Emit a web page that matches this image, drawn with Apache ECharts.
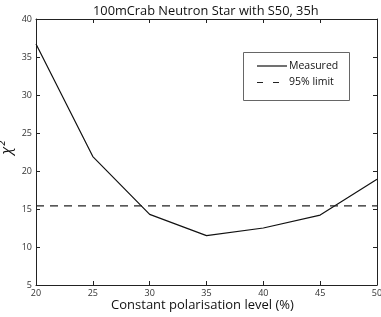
<!DOCTYPE html>
<html><head><meta charset="utf-8">
<script src="https://cdn.jsdelivr.net/npm/echarts@6/dist/echarts.min.js"></script>
<style>html,body{margin:0;padding:0;background:#fff}#c{width:381px;height:317px}</style>
</head><body><div id="c"></div>
<script>
const polarisation = [20, 25, 30, 35, 40, 45, 50];
const measured = [36.7, 21.9, 14.3, 11.5, 12.5, 14.2, 18.9];
const limit95 = 15.4;
const xTicks = [20, 25, 30, 35, 40, 45, 50];
const yTicks = [5, 10, 15, 20, 25, 30, 35, 40];
const legendNames = ['Measured', '95% limit'];

const chart = echarts.init(document.getElementById('c'), null, {renderer: 'canvas'});
const font = 'Open Sans';
const axisCommon = {
  axisLine: {show: true, lineStyle: {color: '#222', width: 1}},
  axisTick: {show: true, inside: true, length: 4, lineStyle: {color: '#222'}},
  splitLine: {show: false}
};
chart.setOption({
  animation: false,
  title: {text: '100mCrab Neutron Star with S50, 35h', left: 88, top: 0,
    textStyle: {fontFamily: font, fontSize: 12.8, fontWeight: 'normal', color: '#111'}},
  grid: {left: 36, right: 4, top: 19, bottom: 32, containLabel: false, outerBoundsMode: 'none'},
  graphic: [
    {type: 'rect', shape: {x: 243.5, y: 52.5, width: 106, height: 48},
      style: {fill: '#fff', stroke: '#666', lineWidth: 1}, z: 100},
    {type: 'line', shape: {x1: 257, y1: 66, x2: 287, y2: 66},
      style: {stroke: '#111', lineWidth: 1.2}, z: 101},
    {type: 'line', shape: {x1: 257, y1: 82.5, x2: 287, y2: 82.5},
      style: {stroke: '#222', lineWidth: 1.2, lineDash: [6, 10]}, z: 101},
    {type: 'text', x: 289, y: 66, style: {text: legendNames[0], fontFamily: font, fontSize: 10.5,
      fill: '#111', verticalAlign: 'middle'}, z: 101},
    {type: 'text', x: 289, y: 82.5, style: {text: legendNames[1], fontFamily: font, fontSize: 10.5,
      fill: '#111', verticalAlign: 'middle'}, z: 101}
  ],
  xAxis: [
    Object.assign({type: 'value', min: 20, max: 50, interval: 5, position: 'bottom',
      name: 'Constant polarisation level (%)', nameLocation: 'middle', nameGap: 14,
      nameMoveOverlap: false,
      nameTextStyle: {fontFamily: font, fontSize: 13, color: '#111', padding: [0, 8, 0, 0]},
      axisLabel: {fontFamily: font, fontSize: 9, color: '#333', margin: 4,
        formatter: v => xTicks.includes(v) ? String(v) : ''}}, axisCommon),
    Object.assign({type: 'value', min: 20, max: 50, interval: 5, position: 'top',
      axisLabel: {show: false}}, axisCommon)
  ],
  yAxis: [
    Object.assign({type: 'value', min: 5, max: 40, interval: 5, position: 'left',
      name: 'χ²', nameLocation: 'middle', nameGap: 22, nameRotate: 90,
      nameMoveOverlap: false,
      nameTextStyle: {fontFamily: font, fontSize: 15, color: '#111', fontStyle: 'italic',
        padding: [0, 0, 0, 8]},
      axisLabel: {fontFamily: font, fontSize: 9, color: '#333', margin: 4,
        formatter: v => yTicks.includes(v) ? String(v) : ''}}, axisCommon),
    Object.assign({type: 'value', min: 5, max: 40, interval: 5, position: 'right',
      axisLabel: {show: false}}, axisCommon)
  ],
  series: [
    {name: 'Measured', type: 'line', symbol: 'none',
      data: polarisation.map((x, i) => [x, measured[i]]),
      lineStyle: {color: '#111', width: 1.2}},
    {name: '95% limit', type: 'line', symbol: 'none',
      data: [[xTicks[0], limit95], [xTicks[xTicks.length - 1], limit95]],
      lineStyle: {color: '#222', width: 1.2, type: [8, 6]}}
  ]
});
</script></body></html>
